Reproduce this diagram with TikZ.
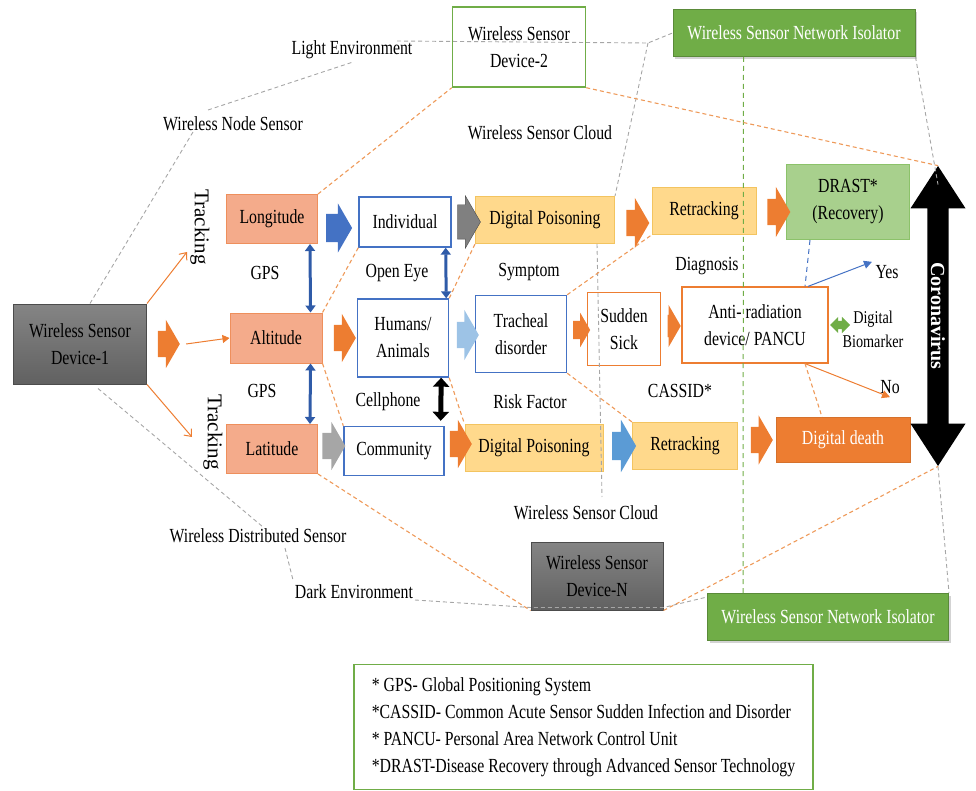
\documentclass[tikz,border=0pt]{standalone}
\usepackage{fontspec}
\setmainfont{Liberation Serif}[FakeStretch=0.79]
\newfontfamily\uprightfont{Liberation Serif}
\usetikzlibrary{arrows.meta,shapes.arrows,shadows,calc}
\definecolor{accorange}{HTML}{ED7D31}
\definecolor{salmonfill}{HTML}{F4AB8B}
\definecolor{salmonline}{HTML}{EE8F5C}
\definecolor{goldfill}{HTML}{FFD98C}
\definecolor{goldline}{HTML}{F3C460}
\definecolor{accblue}{HTML}{4472C4}
\definecolor{darkblue}{HTML}{2F5BA8}
\definecolor{lightblue}{HTML}{9DC3E6}
\definecolor{midblue}{HTML}{5B9BD5}
\definecolor{accgreen}{HTML}{70AD47}
\definecolor{lightgreen}{HTML}{A8D08D}
\definecolor{greenline}{HTML}{8CC26A}
\definecolor{dashorange}{HTML}{EE9A5A}

\begin{document}
\begin{tikzpicture}[
  x=1pt, y=-1pt,
  font=\fontsize{20}{27}\selectfont,
  box/.style={rectangle, align=center, inner sep=1pt, line width=1pt},
  salmon/.style={box, fill=salmonfill, draw=salmonline},
  gold/.style={box, fill=goldfill, draw=goldline},
  bluebox/.style={box, fill=white, draw=accblue, line width=1.4pt},
  orangebox/.style={box, fill=white, draw=accorange, line width=1.2pt},
  device/.style={box, draw=black!70, top color=black!48, bottom color=black!62},
  isolator/.style={box, fill=accgreen, draw=accgreen!80!black, text=white,
    drop shadow={opacity=0.35}},
  sz/.style 2 args={minimum width=#1pt, minimum height=#2pt},
  blk/.style n args={3}{single arrow, draw=none, inner xsep=0pt, inner ysep=#2pt,
    single arrow tip angle=120, minimum height=#1pt,
    single arrow head extend=#3pt},
  gdash/.style={draw=black!35, line width=0.9pt, dash pattern=on 4pt off 3pt},
  odash/.style={draw=dashorange, line width=1.1pt, dash pattern=on 4pt off 3pt},
  gndash/.style={draw=accgreen, line width=1pt, dash pattern=on 5pt off 4pt},
  gpsarr/.style={{Triangle[length=7pt,width=10pt]}-{Triangle[length=7pt,width=10pt]},
    line width=3pt, draw=darkblue},
  thin/.style={draw=accorange, line width=1pt}
]
  \useasboundingbox (0,0) rectangle (976,791);

  % boxes
  \node[device, sz={133}{80}] (dev1) at (80,344) {Wireless Sensor\\Device-1};
  \node[salmon, sz={91}{49}] (lon) at (272,219) {Longitude};
  \node[salmon, sz={92}{50}] (alt) at (276,338) {Altitude};
  \node[salmon, sz={91}{49}] (lat) at (272,449) {Latitude};
  \node[bluebox, sz={92}{50}] (ind) at (405,222) {Individual};
  \node[bluebox, sz={91}{78}] (hum) at (403,338) {Humans/\\Animals};
  \node[bluebox, sz={100}{49}] (com) at (394,451) {Community};
  \node[gold, sz={139}{47}] (dp1) at (545,220) {Digital Poisoning};
  \node[bluebox, sz={91}{77}] (tra) at (521,334) {Tracheal\\disorder};
  \node[gold, sz={138}{47}] (dp2) at (534,448) {Digital Poisoning};
  \node[gold, sz={104}{47}] (ret1) at (704,211) {Retracking};
  \node[orangebox, sz={73}{73}] (sud) at (624,329) {Sudden\\Sick};
  \node[orangebox, sz={146}{76}] (anti) at (755,325) {Anti- radiation\\device/ PANCU};
  \node[gold, sz={105}{47}] (ret2) at (685,446) {Retracking};
  \node[box, fill=lightgreen, draw=greenline, sz={123}{75}] (drast) at (848,202) {DRAST*\\(Recovery)};
  \node[box, fill=accorange, draw=accorange!90!black, text=white, sz={134}{45}] (death) at (843,440) {Digital death};
  \node[box, fill=white, draw=accgreen, line width=1.4pt, sz={133}{80}] (dev2) at (519,47) {Wireless Sensor\\Device-2};
  \node[isolator, sz={242}{47}] (iso1) at (794,33) {Wireless Sensor Network Isolator};
  \node[device, sz={132}{68}] (devN) at (597,576) {Wireless Sensor\\Device-N};
  \node[isolator, sz={241}{47}] (iso2) at (828,617) {Wireless Sensor Network Isolator};
  \node[double arrow, rotate=-90, fill=black, text=white, inner sep=0pt,
    minimum height=300pt, minimum width=55pt, double arrow head extend=11.5pt,
    double arrow tip angle=66, font=\uprightfont\bfseries\fontsize{20}{20}\selectfont]
    (corona) at (938,316) {Coronavirus};
  \node[box, fill=white, draw=accgreen, line width=1.2pt, align=left, sz={459}{125}]
    (legend) at (583.5,727) {* GPS- Global Positioning System\\
    *CASSID- Common Acute Sensor Sudden Infection and Disorder\\
    * PANCU- Personal Area Network Control Unit\\
    *DRAST-Disease Recovery through Advanced Sensor Technology};

  % labels
  \node (light) at (352,50) {Light Environment};
  \node (wns) at (233,124) {Wireless Node Sensor};
  \node (wsc1) at (540,133) {Wireless Sensor Cloud};
  \node[rotate=-90, font=\uprightfont\fontsize{21}{21}\selectfont] (trk1) at (200,227) {Tracking};
  \node[rotate=-90, font=\uprightfont\fontsize{21}{21}\selectfont] (trk2) at (213,432) {Tracking};
  \node (gps1) at (265,273) {GPS};
  \node (gps2) at (262,391) {GPS};
  \node (eye) at (397,273) {Open Eye};
  \node (cell) at (388,402) {Cellphone};
  \node (symp) at (529,272) {Symptom};
  \node (diag) at (707,266) {Diagnosis};
  \node (risk) at (530,402) {Risk Factor};
  \node (cassid) at (680,391) {CASSID*};
  \node (yes) at (887,272) {Yes};
  \node[align=center, font=\fontsize{18}{24}\selectfont] (biom) at (873,329) {Digital\\Biomarker};
  \node (no) at (890,387) {No};
  \node (wsc2) at (586,513) {Wireless Sensor Cloud};
  \node (wds) at (258,536) {Wireless Distributed Sensor};
  \node (dark) at (354,592) {Dark Environment};

  % block arrows
  \node[blk={22}{13}{11}, fill=accorange] (arD) at (165,344) {};
  \node[blk={26}{14}{10.5}, fill=accblue] (arLon) at (335,228) {};
  \node[blk={22}{13}{11}, fill=accorange] (arAlt) at (341,338) {};
  \node[blk={23}{13}{11}, fill=black!35] (arLat) at (330,446) {};
  \node[blk={23}{17}{9}, fill=black!50, draw=black!70] (arInd) at (464,222) {};
  \node[blk={22}{13}{12}, fill=lightblue] (arHum) at (464,335) {};
  \node[blk={22}{13}{11}, fill=accorange] (arCom) at (457,444) {};
  \node[blk={23}{13}{12}, fill=accorange] (arDp1) at (634,223) {};
  \node[blk={23}{13}{12}, fill=accorange] (arRet1) at (775,212) {};
  \node[blk={17}{9}{8}, fill=accorange] (arTra) at (579,330) {};
  \node[blk={13}{11}{10}, fill=accorange] (arSud) at (671,326) {};
  \node[blk={24}{14}{12}, fill=midblue] (arDp2) at (620,446) {};
  \node[blk={22}{13}{11.5}, fill=accorange] (arRet2) at (758,440) {};
  \node[double arrow, fill=accgreen, inner xsep=0pt, inner ysep=4pt,
    minimum height=20pt, double arrow head extend=4pt] (arBio) at (840,325) {};

  % free ends
  \coordinate (t1) at (187,252);
  \coordinate (t2) at (192,437);
  \coordinate (gA) at (193,132);
  \coordinate (gB) at (208,110);
  \coordinate (gC) at (353,62);
  \coordinate (gD) at (397,41);
  \coordinate (gE) at (648,43);
  \coordinate (gF) at (263,527);
  \coordinate (gG) at (285,548);
  \coordinate (gH) at (293,580);
  \coordinate (gI) at (415,600);
  \coordinate (gJ) at (602,497);

  % thin arrows
  \draw[thin, -{Straight Barb[length=6pt,width=10pt]}] (dev1.north east) -- (t1);
  \draw[thin, -{Straight Barb[length=6pt,width=10pt]}] (dev1.south east) -- (t2);
  \draw[thin, -{Triangle[length=7pt,width=8pt]}] ($(arD.tip)+(6,0)$) -- (alt.west);
  \draw[draw=accblue, line width=1pt, -{Triangle[length=8pt,width=8pt]}] ($(anti.north)+(53,0)$) -- (yes.north west);
  \draw[thin, -{Triangle[length=8pt,width=8pt]}] ($(anti.south)+(50,0)$) -- (no.south);

  % vertical links
  \draw[gpsarr] ($(lon.south east)+(-8,0)$) -- ($(alt.north east)+(-12,0)$);
  \draw[gpsarr] ($(alt.south east)+(-12,0)$) -- ($(lat.north east)+(-8,0)$);
  \draw[gpsarr] ($(ind.south east)+(-6,0)$) -- ($(hum.north east)+(-3,0)$);
  \draw[{Triangle[length=9pt,width=16pt]}-{Triangle[length=9pt,width=16pt]}, line width=5pt]
    ($(hum.south east)+(-8,0)$) -- ($(com.north east)+(-4,-5)$);

  % gray dashed
  \draw[gdash] ($(dev1.north)+(10,0)$) -- (gA);
  \draw[gdash] (gB) -- (gC);
  \draw[gdash] (gD) -- (gE) -- (iso1.west);
  \draw[gdash] (gE) -- (dp1.north east);
  \draw[gdash] ($(dp1.south east)+(-18,0)$) -- (gJ);
  \draw[gdash] (iso1.south east) -- ($(corona.tip 2)+(0,19)$);
  \draw[gdash] (corona.tip 1) -- (iso2.north east);
  \draw[gdash] ($(dev1.south)+(18,4)$) -- (gF);
  \draw[gdash] (gG) -- (gH);
  \draw[gdash] (gI) -- ($(devN.south west)+(0,-3)$) -- ($(devN.south east)+(0,-3)$) -- ($(iso2.north west)+(0,4)$);

  % green dashed
  \draw[gndash] ($(iso1.south west)+(71,0)$) -- ($(iso2.north west)+(36,0)$);

  % blue dashed
  \draw[draw=accblue, line width=1pt, dash pattern=on 5pt off 4pt]
    ($(drast.south)+(-38,0)$) -- ($(anti.north)+(50,0)$);

  % orange dashed
  \draw[odash] (lon.north east) -- (dev2.south west);
  \draw[odash] (dev2.south east) -- (corona.tip 2);
  \draw[odash] (ind.south west) -- (alt.north east);
  \draw[odash] (alt.south east) -- (com.north west);
  \draw[odash] (hum.north east) -- (dp1.south west);
  \draw[odash] (hum.south east) -- (dp2.north west);
  \draw[odash] (tra.north east) -- (ret1.south west);
  \draw[odash] (tra.south east) -- (ret2.north west);
  \draw[odash] ($(anti.south)+(50,0)$) -- ($(death.north)+(-21,0)$);
  \draw[odash] (lat.south east) -- (devN.south west);
  \draw[odash] (devN.south east) -- (corona.tip 1);
\end{tikzpicture}
\end{document}
